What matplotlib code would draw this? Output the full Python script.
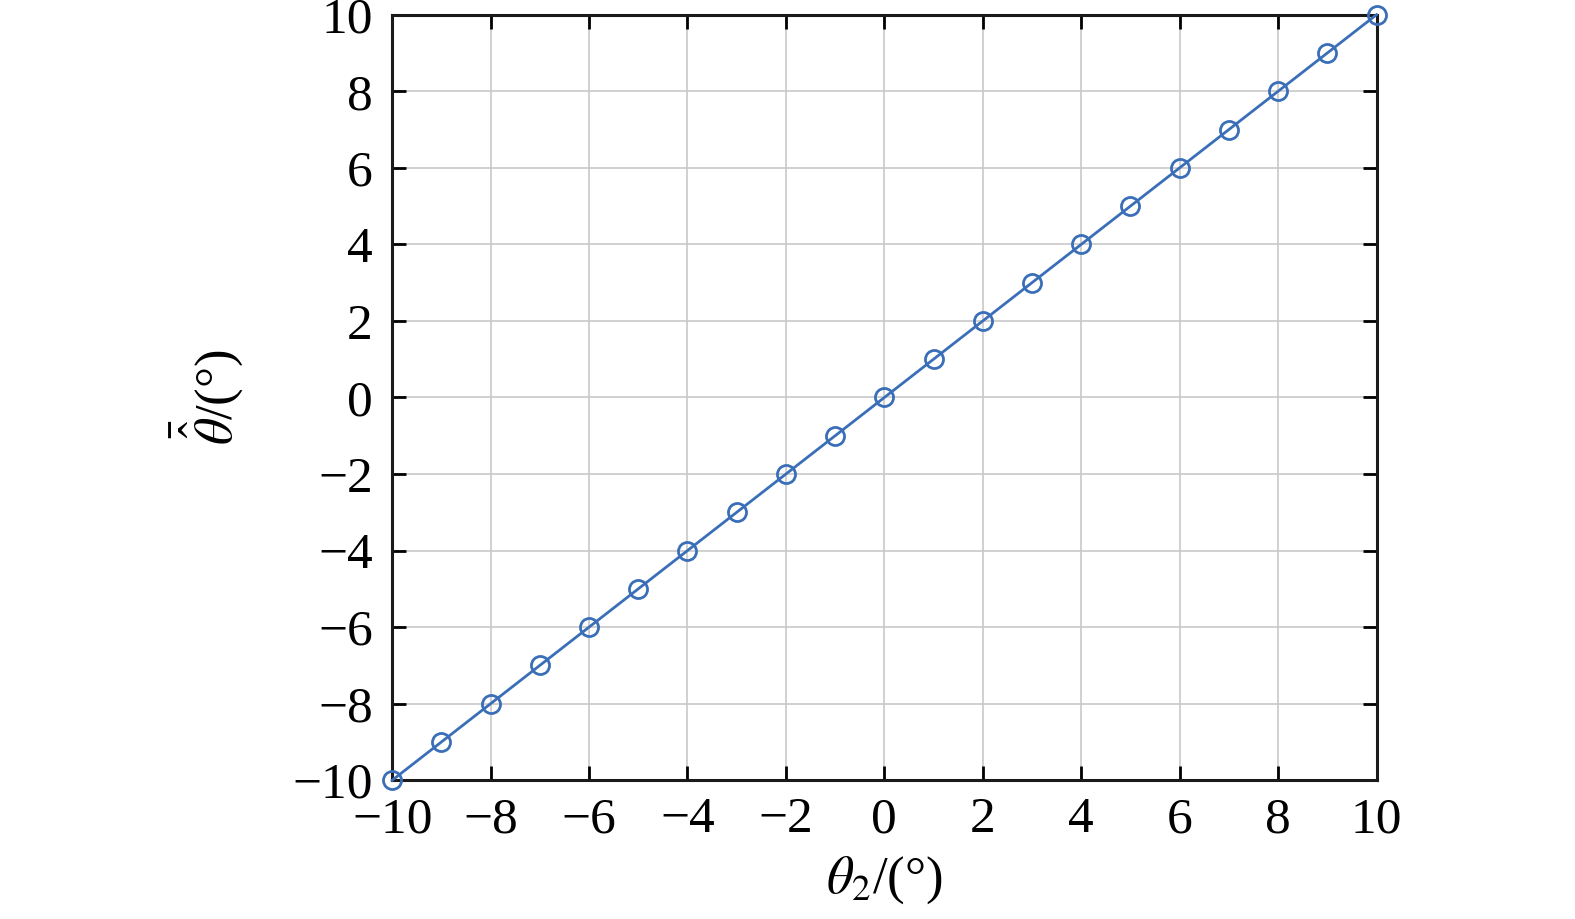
import matplotlib
matplotlib.use("Agg")
import matplotlib.pyplot as plt

theta2 = [-10, -9, -8, -7, -6, -5, -4, -3, -2, -1, 0, 1, 2, 3, 4, 5, 6, 7, 8, 9, 10]
theta_est = [-10, -9, -8, -7, -6, -5, -4, -3, -2, -1, 0, 1, 2, 3, 4, 5, 6, 7, 8, 9, 10]
ticks = [-10, -8, -6, -4, -2, 0, 2, 4, 6, 8, 10]

plt.rcParams['font.family'] = ['Liberation Serif', 'DejaVu Serif']
plt.rcParams['mathtext.fontset'] = 'stix'

fig = plt.figure(figsize=(15.75, 9.19), dpi=100)
ax = fig.add_axes([0.249, 0.151, 0.625, 0.833])

ax.plot(theta2, theta_est, color='#3a6fb8', lw=2, marker='o', ms=13,
        mfc='none', mec='#3a6fb8', mew=2, clip_on=False, zorder=3)

ax.set_xlim(-10, 10)
ax.set_ylim(-10, 10)
ax.set_xticks(ticks)
ax.set_yticks(ticks)
ax.set_xticklabels([str(t).replace('-', '\u2212') for t in ticks])
ax.set_yticklabels([str(t).replace('-', '\u2212') for t in ticks])
ax.grid(True, color='#c8c8c8', lw=1.2)
ax.tick_params(direction='in', length=10, width=2, labelsize=37, top=True, right=True)
ax.tick_params(axis='x', pad=12)
ax.tick_params(axis='y', pad=14)
for s in ax.spines.values():
    s.set_linewidth(2.2)
    s.set_color('#1a1a1a')

ax.set_xlabel(r'$\theta_2$/(°)', fontsize=38, labelpad=8)
ax.set_ylabel(r'$\bar{\hat{\theta}}$/(°)', fontsize=38, labelpad=34)

fig.savefig('out.png', dpi=100)
